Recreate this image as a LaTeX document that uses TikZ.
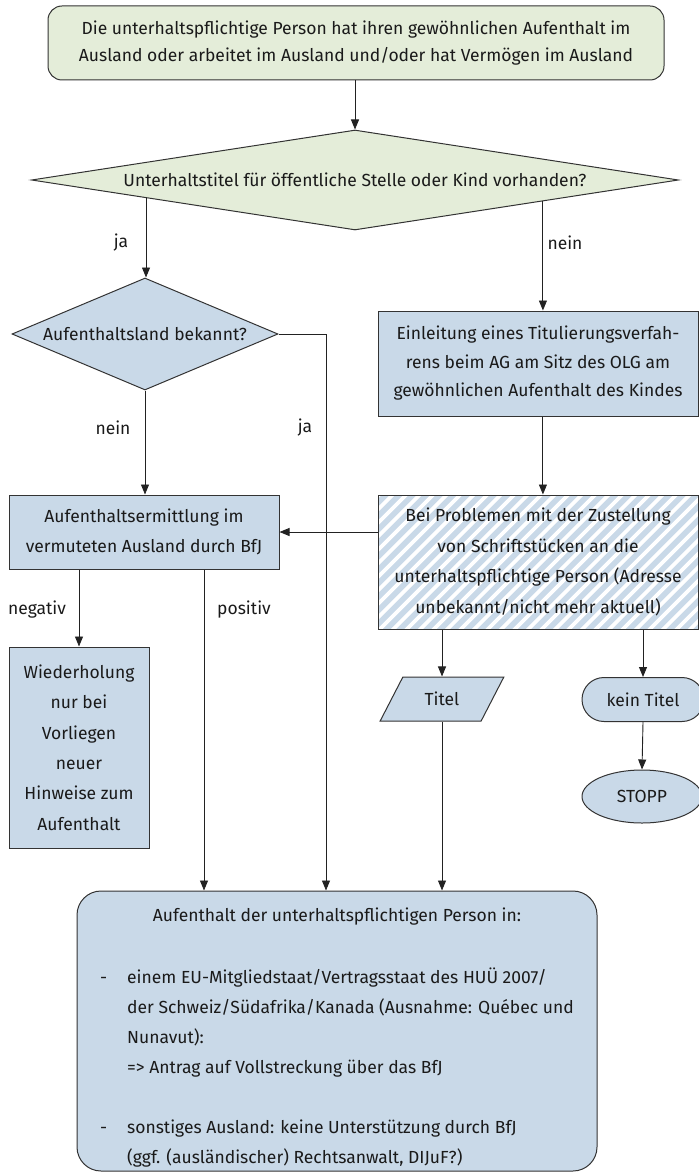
\documentclass[tikz,border=0pt]{standalone}
\usepackage{fontspec}
\setmainfont{Fira Sans}
\usetikzlibrary{arrows.meta,shapes.geometric,shapes.misc,calc}
\definecolor{gfill}{HTML}{E4EDD9}
\definecolor{bfill}{HTML}{C9D9E8}
\definecolor{bord}{HTML}{333333}
\definecolor{txt}{HTML}{1A1A1A}
\definecolor{lncol}{HTML}{222222}
\begin{document}
\begin{tikzpicture}[x=1pt,y=-1pt,
  font=\fontsize{17.5}{28}\selectfont,
  box/.style={draw=bord, line width=1pt, fill=bfill, inner sep=0pt, align=center, text=txt},
  arr/.style={-{Triangle[length=10pt,width=8pt]}, line width=0.9pt, draw=lncol},
  lab/.style={text=txt, inner sep=0pt}]
\useasboundingbox (0,0) rectangle (698,1174);

% nodes
\node[box, fill=gfill, rounded corners=14pt, minimum width=616pt, minimum height=74pt,
      font=\fontsize{17.5}{27}\selectfont] (top) at (356,43)
  {Die unterhaltspflichtige Person hat ihren gewöhnlichen Aufenthalt im\\Ausland oder arbeitet im Ausland und/oder hat Vermögen im Ausland};

\node[box, diamond, fill=gfill, aspect=6.47, minimum width=647pt, minimum height=100pt] (d1) at (355,180)
  {Unterhaltstitel für öffentliche Stelle oder Kind vorhanden?};

\node[box, diamond, aspect=2.375, minimum width=266pt, minimum height=112pt] (d2) at (145,334)
  {Aufenthaltsland bekannt?};

\node[box, minimum width=320pt, minimum height=105pt, font=\fontsize{17.5}{28.5}\selectfont] (ein) at (538,363.5)
  {Einleitung eines Titulierungsverfah-\\rens beim AG am Sitz des OLG am\\gewöhnlichen Aufenthalt des Kindes};

\node[box, fill=white, minimum width=320pt, minimum height=134pt, font=\fontsize{17.5}{30.5}\selectfont,
  path picture={
    \fill[bfill] (path picture bounding box.south west) rectangle (path picture bounding box.north east);
    \foreach \k in {0,...,40}
      \draw[white, line width=3.8pt] ($(path picture bounding box.south west)+(\k*13.5pt-170pt,-10pt)$) -- ++(220pt,220pt);
  }] (hat) at (538,562)
  {Bei Problemen mit der Zustellung\\von Schriftstücken an die\\unterhaltspflichtige Person (Adresse\\unbekannt/nicht mehr aktuell)};

\node[box, minimum width=270pt, minimum height=74pt, font=\fontsize{17.5}{30}\selectfont] (erm) at (144,532)
  {Aufenthaltsermittlung im\\vermuteten Ausland durch BfJ};

\node[box, minimum width=140pt, minimum height=201pt, font=\fontsize{17.5}{30.4}\selectfont] (wied) at (79,747.5)
  {Wiederholung\\nur bei\\Vorliegen\\neuer\\Hinweise zum\\Aufenthalt};

\node[box, trapezium, trapezium left angle=54, trapezium right angle=126, trapezium stretches=true,
      minimum width=124pt, minimum height=44pt] (titel) at (442,699) {Titel};

\node[box, rounded rectangle, minimum width=122pt, minimum height=44pt] (kein) at (643,699.5) {kein Titel};

\node[box, ellipse, minimum width=120pt, minimum height=53pt] (stop) at (642,796.5) {STOPP};

\node[box, rounded corners=24pt, minimum width=520pt, minimum height=280pt, align=left,
      font=\fontsize{17.5}{30}\selectfont] (bot) at (337,1031)
  {\raisebox{-5pt}[\height][\depth]{\begin{tabular}{@{}p{27pt}@{}l@{}}
   \multicolumn{2}{c}{Aufenthalt der unterhaltspflichtigen Person in:}\\[2pt]
   \\
   - & einem EU-Mitgliedstaat/Vertragsstaat des HUÜ 2007/\\
     & der Schweiz/Südafrika/Kanada (Ausnahme: Québec und\\
     & Nunavut):\\
     & => Antrag auf Vollstreckung über das BfJ\\
   \\
   - & sonstiges Ausland: keine Unterstützung durch BfJ\\
     & (ggf. (ausländischer) Rechtsanwalt, DIJuF?)
  \end{tabular}}};

% helper coordinates
\coordinate (jax) at (326,0);
\coordinate (posx) at (204,0);
\coordinate (ja1) at ($(d1.west)!0.355!(d1.south)$);
\coordinate (nein1) at ($(d1.south)!0.58!(d1.east)$);

% connectors
\draw[arr] (top.south -| d1.north) -- (d1.north);
\draw[arr] (ja1) -- (ja1 |- d2.north);
\draw[arr] (nein1) -- (nein1 |- ein.north);
\draw[arr] (d2.south) -- (d2.south |- erm.north);
\draw[arr] (d2.east) -| (jax |- bot.north);
\draw[arr] (nein1 |- ein.south) -- (nein1 |- hat.north);
\draw[arr] (hat.west |- erm.east) -- (erm.east);
\draw[arr] (wied.north |- erm.south) -- (wied.north);
\draw[arr] (posx |- erm.south) -- (posx |- bot.north);
\draw[arr] (titel.north |- hat.south) -- (titel.north);
\draw[arr] (titel.south) -- (titel.south |- bot.north);
\draw[arr] (kein.north |- hat.south) -- (kein.north);
\draw[arr] (kein.south) -- (stop.north);

% labels
\node[lab] (lja1) at (121,243) {ja};
\node[lab] (lnein1) at (565,243) {nein};
\node[lab] (lnein2) at (113,428) {nein};
\node[lab] (lja2) at (305,428) {ja};
\node[lab] (lneg) at (37,610) {negativ};
\node[lab] (lpos) at (244,610) {positiv};
\end{tikzpicture}
\end{document}
